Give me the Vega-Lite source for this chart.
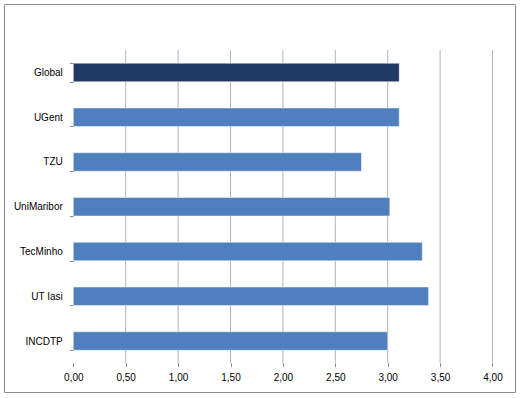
{
  "$schema": "https://vega.github.io/schema/vega-lite/v6.json",
  "width": 511,
  "height": 388,
  "autosize": "none",
  "padding": {"left": 4, "top": 4, "right": 6, "bottom": 6},
  "background": "white",
  "config": {
    "view": {"stroke": "#8c8c8c", "strokeWidth": 1},
    "font": "Liberation Sans"
  },
  "datasets": {
    "scores": [
      {"name": "Global", "value": 3.11},
      {"name": "UGent", "value": 3.11},
      {"name": "TZU", "value": 2.75},
      {"name": "UniMaribor", "value": 3.02},
      {"name": "TecMinho", "value": 3.33},
      {"name": "UT Iasi", "value": 3.39},
      {"name": "INCDTP", "value": 3.0}
    ],
    "ticks": [
      {"value": 0.5}, {"value": 1.0}, {"value": 1.5}, {"value": 2.0},
      {"value": 2.5}, {"value": 3.0}, {"value": 3.5}, {"value": 4.0}
    ]
  },
  "layer": [
    {
      "data": {"name": "ticks"},
      "mark": {"type": "rule", "color": "#b3b3b3", "strokeWidth": 1},
      "encoding": {
        "x": {"field": "value", "type": "quantitative",
              "scale": {"domain": [-0.6613, 4.2147], "nice": false, "zero": false},
              "axis": {"values": [0, 0.5, 1, 1.5, 2, 2.5, 3, 3.5, 4],
                       "labelExpr": "replace(format(datum.value, '.2f'), '.', ',')",
                       "grid": false, "domain": false, "ticks": true, "tickSize": 4,
                       "tickColor": "#8c8c8c", "offset": -29.3, "labelPadding": 6,
                       "labelFontSize": 10, "labelColor": "#000000", "title": null}},
        "y": {"datum": 0, "type": "quantitative",
              "scale": {"domain": [-0.09371, 1.14711], "nice": false, "zero": false}, "axis": null},
        "y2": {"datum": 1}
      }
    },
    {
      "data": {"name": "scores"},
      "mark": {"type": "bar", "stroke": "#ffffff", "strokeOpacity": 0.45, "strokeWidth": 1},
      "encoding": {
        "x": {"field": "value", "type": "quantitative",
              "scale": {"domain": [-0.6613, 4.2147], "nice": false, "zero": false},
              "axis": {"values": [0, 0.5, 1, 1.5, 2, 2.5, 3, 3.5, 4],
                       "labelExpr": "replace(format(datum.value, '.2f'), '.', ',')",
                       "grid": false, "domain": false, "ticks": true, "tickSize": 4,
                       "tickColor": "#8c8c8c", "offset": -29.3, "labelPadding": 6,
                       "labelFontSize": 10, "labelColor": "#000000", "title": null}},
        "x2": {"datum": 0},
        "y": {"field": "name", "type": "nominal", "sort": null,
              "scale": {"range": [46.1, 359.4], "paddingInner": 0.588, "paddingOuter": 0.294, "round": false},
              "axis": {"title": null, "domain": false, "tickBand": "extent", "tickSize": 4,
                       "tickColor": "#8c8c8c", "offset": -69.3, "labelPadding": 7,
                       "labelFontSize": 10, "labelColor": "#000000", "grid": false}},
        "color": {"condition": {"test": "datum.name === 'Global'", "value": "#1f3864"}, "value": "#4f7fbe"}
      }
    },
    {
      "mark": {"type": "rule", "color": "#8c8c8c", "strokeWidth": 1},
      "encoding": {
        "x": {"datum": -0.03, "type": "quantitative",
              "scale": {"domain": [-0.6613, 4.2147], "nice": false, "zero": false}},
        "x2": {"datum": 4},
        "y": {"datum": 0, "type": "quantitative",
              "scale": {"domain": [-0.09371, 1.14711], "nice": false, "zero": false}, "axis": null}
      }
    },
    {
      "mark": {"type": "rule", "color": "#8c8c8c", "strokeWidth": 1},
      "encoding": {
        "x": {"datum": 0, "type": "quantitative",
              "scale": {"domain": [-0.6613, 4.2147], "nice": false, "zero": false}},
        "y": {"datum": 0, "type": "quantitative",
              "scale": {"domain": [-0.09371, 1.14711], "nice": false, "zero": false}, "axis": null},
        "y2": {"datum": 1}
      }
    }
  ],
  "resolve": {"scale": {"y": "independent"}, "axis": {"y": "independent"}}
}
